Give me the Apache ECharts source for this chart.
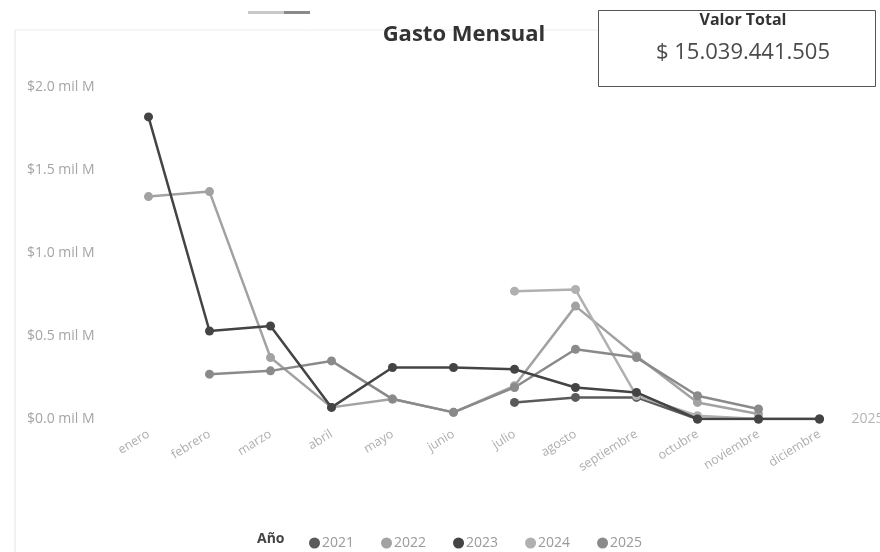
<!DOCTYPE html>
<html>
<head>
<meta charset="utf-8">
<script src="https://cdn.jsdelivr.net/npm/echarts@6/dist/echarts.min.js"></script>
<style>
  html, body { margin: 0; padding: 0; background: #fff; }
  #chart { width: 880px; height: 552px; }
</style>
</head>
<body>
<div id="chart"></div>
<script>
// meses del eje x
var meses = ['enero', 'febrero', 'marzo', 'abril', 'mayo', 'junio', 'julio',
  'agosto', 'septiembre', 'octubre', 'noviembre', 'diciembre']

// gasto mensual en miles de millones (mil M)
var gasto2021 = [null, null, null, null, null, null, 0.10, 0.13, 0.13, 0.00, 0.00, 0.00]
var gasto2022 = [1.34, 1.37, 0.37, 0.07, 0.12, 0.04, 0.20, 0.68, 0.38, 0.10, 0.03, null]
var gasto2023 = [1.82, 0.53, 0.56, 0.07, 0.31, 0.31, 0.30, 0.19, 0.16, 0.00, 0.00, 0.00]
var gasto2024 = [null, null, null, null, null, null, 0.77, 0.78, 0.14, 0.02, 0.00, null]
var gasto2025 = [null, 0.27, 0.29, 0.35, 0.12, 0.04, 0.19, 0.42, 0.37, 0.14, 0.06, null]

var anios = ['2021', '2022', '2023', '2024', '2025']
var colores = ['#5a5a5a', '#a2a2a2', '#444444', '#b0b0b0', '#8a8a8a']
var valorTotal = '$ 15.039.441.505'

var datos = [gasto2021, gasto2022, gasto2023, gasto2024, gasto2025]

var chart = echarts.init(document.getElementById('chart'))

var series = []
anios.forEach(function (a, i) {
  var s = {
    name: a,
    type: 'line',
    data: datos[i],
    symbol: 'circle',
    symbolSize: 9,
    connectNulls: false,
    lineStyle: { width: 2.5, color: colores[i] },
    itemStyle: { color: colores[i] },
    z: a === '2023' ? 5 : 3
  }
  if (a === '2023') {
    s.endLabel = {
      show: true,
      formatter: '2025',
      distance: 32,
      color: '#b5b5b5',
      fontSize: 14,
      fontFamily: 'Open Sans'
    }
  }
  series.push(s)
})

var option = {
  backgroundColor: '#fff',
  color: colores,
  textStyle: { fontFamily: 'Open Sans' },
  title: {
    text: 'Gasto Mensual',
    left: 459,
    top: 19,
    textAlign: 'center',
    textStyle: { fontSize: 22, fontWeight: 'bold', color: '#333', fontFamily: 'Open Sans' }
  },
  graphic: [
    // borde tenue de la tarjeta
    { type: 'line', shape: { x1: 15, y1: 30, x2: 15, y2: 552 }, style: { stroke: '#e2e2e2', lineWidth: 1 } },
    { type: 'line', shape: { x1: 15, y1: 30, x2: 598, y2: 30 }, style: { stroke: '#ececec', lineWidth: 1 } },
    { type: 'rect', shape: { x: 248, y: 11, width: 36, height: 3 }, style: { fill: '#c8c8c8' } },
    { type: 'rect', shape: { x: 284, y: 11, width: 26, height: 3 }, style: { fill: '#8a8a8a' } },
    // tarjeta Valor Total
    { type: 'rect', shape: { x: 598.5, y: 10.5, width: 277, height: 76 }, style: { fill: '#fff', stroke: '#555', lineWidth: 1 } },
    { type: 'text', x: 743, y: 12, style: { text: 'Valor Total', align: 'center', fill: '#333', font: 'bold 16px "Open Sans"' } },
    { type: 'text', x: 743, y: 42, style: { text: valorTotal, align: 'center', fill: '#4a4a4a', font: '22px "Open Sans"' } },
    // titulo de la leyenda
    { type: 'text', x: 257, y: 532, style: { text: 'Año', fill: '#444', font: 'bold 14px "Open Sans"' } }
  ],
  legend: {
    data: anios,
    left: 304,
    top: 531,
    icon: 'circle',
    itemWidth: 11,
    itemHeight: 11,
    itemGap: 27,
    textStyle: { color: '#9a9a9a', fontSize: 14, padding: [0, 0, 0, -3] }
  },
  grid: {
    left: 118,
    width: 732,
    top: 87,
    bottom: 133
  },
  xAxis: {
    type: 'category',
    data: meses,
    boundaryGap: true,
    axisLine: { show: false },
    axisTick: { show: false },
    axisLabel: {
      rotate: 32,
      interval: 0,
      margin: 14,
      color: '#adadad',
      fontSize: 12.5
    }
  },
  yAxis: {
    type: 'value',
    min: 0,
    max: 2.0,
    interval: 0.5,
    axisLine: { show: false },
    axisTick: { show: false },
    splitLine: { show: false },
    axisLabel: {
      align: 'left',
      margin: 91,
      color: '#a5a5a5',
      fontSize: 14,
      formatter: function (v) { return '$' + v.toFixed(1) + ' mil M' }
    }
  },
  series: series
}

chart.setOption(option)
</script>
</body>
</html>
